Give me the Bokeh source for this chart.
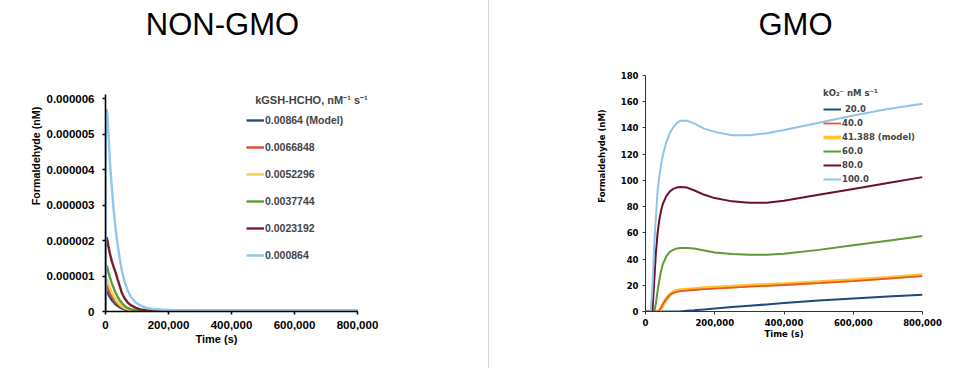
import numpy as np
from bokeh.plotting import figure
from bokeh.models import (Range1d, FixedTicker, NumeralTickFormatter, CustomJSTickFormatter,
                          Legend, LegendItem, Spacer, Label)
from bokeh.layouts import row
from bokeh.embed import file_html
from bokeh.resources import INLINE

# ---------------- NON-GMO data (formaldehyde in units of 1e-6 nM) ----------------
left_title = "NON-GMO"
left_legend_title = "kGSH-HCHO, nM\u207b\u00b9 s\u207b\u00b9"
left_labels = ["0.00864 (Model)", "0.0066848", "0.0052296", "0.0037744", "0.0023192", "0.000864"]
left_colors = ["#2b4d7e", "#e0472e", "#f3cf4f", "#5e9e3a", "#7a1f2a", "#92c6ec"]
left_time = [0, 1000, 3000, 6000, 10000, 15000, 20000, 26000, 32000, 38000, 45000, 52000,
             60000, 70000, 80000, 95000, 110000, 130000, 150000, 180000, 220000, 300000,
             400000, 500000, 600000, 700000, 800000]
left_k_00864 = [0, 0.48, 0.58, 0.54, 0.47, 0.39, 0.32, 0.26, 0.20, 0.16, 0.12, 0.09,
                0.06, 0.04, 0.025, 0.015, 0.01, 0.008, 0.007, 0.006, 0.006, 0.005,
                0.005, 0.005, 0.005, 0.005, 0.005]
left_k_0066848 = [0, 0.62, 0.75, 0.70, 0.61, 0.50, 0.42, 0.34, 0.27, 0.21, 0.16, 0.12,
                  0.08, 0.05, 0.03, 0.018, 0.012, 0.009, 0.008, 0.007, 0.006, 0.006,
                  0.006, 0.006, 0.006, 0.006, 0.006]
left_k_0052296 = [0, 0.75, 0.92, 0.86, 0.75, 0.63, 0.53, 0.43, 0.34, 0.27, 0.20, 0.15,
                  0.10, 0.065, 0.04, 0.022, 0.015, 0.011, 0.009, 0.008, 0.007, 0.007,
                  0.007, 0.007, 0.007, 0.007, 0.007]
left_k_0037744 = [0, 1.10, 1.30, 1.22, 1.08, 0.93, 0.80, 0.66, 0.53, 0.42, 0.32, 0.24,
                  0.16, 0.10, 0.065, 0.035, 0.02, 0.015, 0.012, 0.01, 0.009, 0.008,
                  0.008, 0.008, 0.008, 0.008, 0.008]
left_k_0023192 = [0, 1.80, 2.10, 2.00, 1.80, 1.60, 1.42, 1.25, 1.10, 0.92, 0.72, 0.52,
                  0.38, 0.26, 0.18, 0.11, 0.06, 0.035, 0.025, 0.02, 0.018, 0.015,
                  0.015, 0.015, 0.015, 0.015, 0.015]
left_k_000864 = [0, 5.00, 5.70, 5.55, 4.90, 4.10, 3.50, 2.85, 2.35, 1.90, 1.50, 1.15,
                 0.85, 0.60, 0.42, 0.26, 0.17, 0.10, 0.07, 0.05, 0.04, 0.035,
                 0.03, 0.03, 0.03, 0.03, 0.03]
left_series = [left_k_00864, left_k_0066848, left_k_0052296, left_k_0037744, left_k_0023192, left_k_000864]
left_yticks = [0, 1e-6, 2e-6, 3e-6, 4e-6, 5e-6, 6e-6]
left_xticks = [0, 200000, 400000, 600000, 800000]
unit_scale = 1e-6

# ---------------- GMO data (formaldehyde in nM) ----------------
right_title = "GMO"
right_legend_title = "kO\u2082\u207b nM s\u207b\u00b9"
right_labels = [" 20.0", "40.0", "41.388 (model)", "60.0", "80.0", "100.0"]
right_colors = ["#1f4a78", "#e35a2a", "#ffc22e", "#5e9a35", "#6b0f2b", "#8fc3ea"]
right_time = [0, 15000, 20000, 25000, 30000, 35000, 40000, 45000, 50000, 60000, 70000, 80000,
              90000, 100000, 120000, 140000, 170000, 200000, 250000, 300000, 350000, 400000,
              500000, 600000, 700000, 800000]
right_k20 = [0, 0, 0, 0, 0, 0, 0, 0, 0, 0, 0, 0,
             0, 0, 0.5, 0.9, 1.6, 2.3, 3.4, 4.4, 5.4, 6.4,
             8.3, 9.9, 11.4, 12.8]
right_k40 = [0, 0, 0, 0, 0, 0, 1, 3, 5.5, 9.5, 12.5, 14.2,
             15, 15.5, 16, 16.4, 17, 17.5, 18.2, 19, 19.6, 20.2,
             21.6, 23.2, 25, 27]
right_k41388 = [0, 0, 0, 0, 0, 0, 0, 2, 5, 9.5, 12.8, 14.8,
                15.8, 16.3, 16.8, 17.2, 17.8, 18.3, 19, 19.8, 20.4, 21,
                22.4, 24, 25.8, 27.8]
right_k60 = [0, 0, 0, 0, 6, 16, 24, 31, 36, 42, 45.5, 47,
             48, 48.5, 48.5, 48, 46.5, 45, 43.8, 43.2, 43.2, 44,
             47, 50.5, 54, 57.5]
right_k80 = [0, 0, 0, 22, 45, 60, 70, 77, 82, 88, 91.5, 93.5,
             94.5, 95, 94.5, 92.5, 89, 86.5, 84, 83, 83, 84.5,
             89, 93.5, 98, 102.5]
right_k100 = [0, 0, 18, 50, 72, 92, 103, 112, 119, 129, 136, 140.5,
              143.5, 145.5, 145.5, 143.5, 139.5, 137, 134.5, 134.5, 136, 138.5,
              144, 149.5, 154.5, 158.5]
right_series = [right_k20, right_k40, right_k41388, right_k60, right_k80, right_k100]
right_widths = [2, 1.8, 3.6, 2, 2, 2]
right_draw_order = [0, 2, 1, 3, 4, 5]
right_yticks = [0, 20, 40, 60, 80, 100, 120, 140, 160, 180]
right_xticks = [0, 200000, 400000, 600000, 800000]

FL = "Liberation Sans"
FR = "DejaVu Sans"
NB = "\u00a0"

# ---------------- layout (pixels) ----------------
H = 368
TOP, BOTTOM = 0, 57              # frames run to the top of the page so that texts are not clipped
FRAME_H = H - TOP - BOTTOM       # frame bottom (y = 0) sits at pixel 311
LEFT_TOP_TICK_PX = 98            # pixel row of 0.000006 on the left chart
RIGHT_TOP_TICK_PX = 75           # pixel row of 180 on the right chart
left_ymax = left_yticks[-1] * FRAME_H / (FRAME_H - LEFT_TOP_TICK_PX)
right_ymax = right_yticks[-1] * FRAME_H / (FRAME_H - RIGHT_TOP_TICK_PX)
LEFT_W, LEFT_BL, LEFT_FRAME_W, LEFT_AXIS_W = 488, 105, 283, 252
left_xmax = left_xticks[-1] * LEFT_FRAME_W / LEFT_AXIS_W


def style_axes(p, font, size, line_width, color, standoff_x, standoff_y, tick_out):
    for ax in (p.xaxis[0], p.yaxis[0]):
        ax.axis_line_color = color
        ax.axis_line_width = line_width
        ax.major_tick_line_color = color
        ax.major_tick_line_width = line_width
        ax.major_tick_out = tick_out
        ax.major_tick_in = 0
        ax.minor_tick_line_color = None
        ax.major_label_text_font = font
        ax.major_label_text_font_style = "bold"
        ax.major_label_text_font_size = size
        ax.major_label_text_color = "black"
        ax.axis_label_text_font = font
        ax.axis_label_text_font_style = "bold"
        ax.axis_label_text_color = "black"
    p.xaxis[0].major_label_standoff = standoff_x
    p.yaxis[0].major_label_standoff = standoff_y
    p.grid.visible = False
    p.outline_line_color = None


def add_title(p, text, x, y):
    p.add_layout(Label(x=x, y=y, x_units="screen", y_units="screen", text=text,
                       text_align="center", text_baseline="middle", text_font=FL,
                       text_font_size="31px", text_color="black"))


# ---------------- left figure ----------------
pl = figure(width=LEFT_W, height=H, output_backend="svg", toolbar_location=None,
            x_range=Range1d(0, left_xmax), y_range=Range1d(0, left_ymax),
            min_border_left=LEFT_BL, min_border_right=LEFT_W - LEFT_BL - LEFT_FRAME_W,
            min_border_top=TOP, min_border_bottom=BOTTOM,
            background_fill_color="white", border_fill_color="white")
style_axes(pl, FL, "11.5px", 1.6, "black", 6, 8, 3)
pl.xaxis[0].ticker = FixedTicker(ticks=left_xticks)
pl.xaxis[0].bounds = (left_xticks[0], left_xticks[-1])
pl.xaxis[0].formatter = NumeralTickFormatter(format="0,0")
pl.yaxis[0].ticker = FixedTicker(ticks=left_yticks)
pl.yaxis[0].bounds = (0, left_yticks[-1] * 1.017)
pl.yaxis[0].formatter = CustomJSTickFormatter(code="return tick == 0 ? '0' : tick.toFixed(6);")
pl.xaxis[0].axis_label = "Time (s)" + NB * 9
pl.xaxis[0].axis_label_text_font_size = "11px"
pl.xaxis[0].axis_label_standoff = 1
pl.yaxis[0].axis_label = "Formaldehyde (nM)"
pl.yaxis[0].axis_label_text_font_size = "10.7px"
pl.yaxis[0].axis_label_standoff = 2
# the axis label is centred on the frame; keep it centred on the drawn axis part
pl.xaxis[0].axis_label = "Time (s)" + NB * 20

left_items = []
for lab, col, vals in zip(left_labels, left_colors, left_series):
    r = pl.line(x=left_time, y=np.array(vals) * unit_scale, line_color=col, line_width=2.4)
    left_items.append(LegendItem(label=lab, renderers=[r]))

legL = Legend(items=left_items, location=(141, 46), padding=0, spacing=7, margin=0,
              glyph_width=18, glyph_height=20, label_height=20, label_standoff=1,
              border_line_color=None, background_fill_alpha=0,
              title=NB * 3 + left_legend_title, title_standoff=3,
              title_text_font=FL, title_text_font_style="bold", title_text_font_size="11px",
              label_text_font=FL, label_text_font_style="bold", label_text_font_size="10.5px")
pl.add_layout(legL)
add_title(pl, left_title, 117, FRAME_H - 24)

# ---------------- divider ----------------
divider = Spacer(width=1, height=H, styles={"background-color": "#d9d9d9"})

# ---------------- right figure ----------------
pr = figure(width=486, height=H, output_backend="svg", toolbar_location=None,
            x_range=Range1d(0, 800000), y_range=Range1d(0, right_ymax),
            min_border_left=156, min_border_right=53, min_border_top=TOP, min_border_bottom=BOTTOM,
            background_fill_color="white", border_fill_color="white")
style_axes(pr, FR, "8.5px", 1, "#333333", 4, 4, 3)
pr.xaxis[0].ticker = FixedTicker(ticks=right_xticks)
pr.xaxis[0].formatter = NumeralTickFormatter(format="0,0")
pr.yaxis[0].ticker = FixedTicker(ticks=right_yticks)
pr.yaxis[0].bounds = (right_yticks[0], right_yticks[-1])
pr.xaxis[0].axis_label = "Time (s)"
pr.xaxis[0].axis_label_text_font_size = "8.5px"
pr.xaxis[0].axis_label_standoff = 0
pr.yaxis[0].axis_label = "Formaldehyde (nM)"
pr.yaxis[0].axis_label_text_font_size = "8.5px"
pr.yaxis[0].axis_label_standoff = 11

rend = {}
for i in right_draw_order:
    rend[i] = pr.line(x=right_time, y=right_series[i], line_color=right_colors[i],
                      line_width=right_widths[i])
right_items = [LegendItem(label=right_labels[i], renderers=[rend[i]]) for i in range(len(right_labels))]

legR = Legend(items=right_items, location=(178, 125), padding=0, spacing=0, margin=0,
              glyph_width=18, glyph_height=14, label_height=14, label_standoff=1,
              border_line_color=None, background_fill_alpha=0,
              title=right_legend_title, title_standoff=4,
              title_text_font=FR, title_text_font_style="bold", title_text_font_size="8.5px",
              label_text_font=FR, label_text_font_style="bold", label_text_font_size="8.5px")
pr.add_layout(legR)
add_title(pr, right_title, 150, FRAME_H - 24)

layout = row(pl, divider, pr, spacing=0)
open("out.html", "w").write(file_html(layout, INLINE))
